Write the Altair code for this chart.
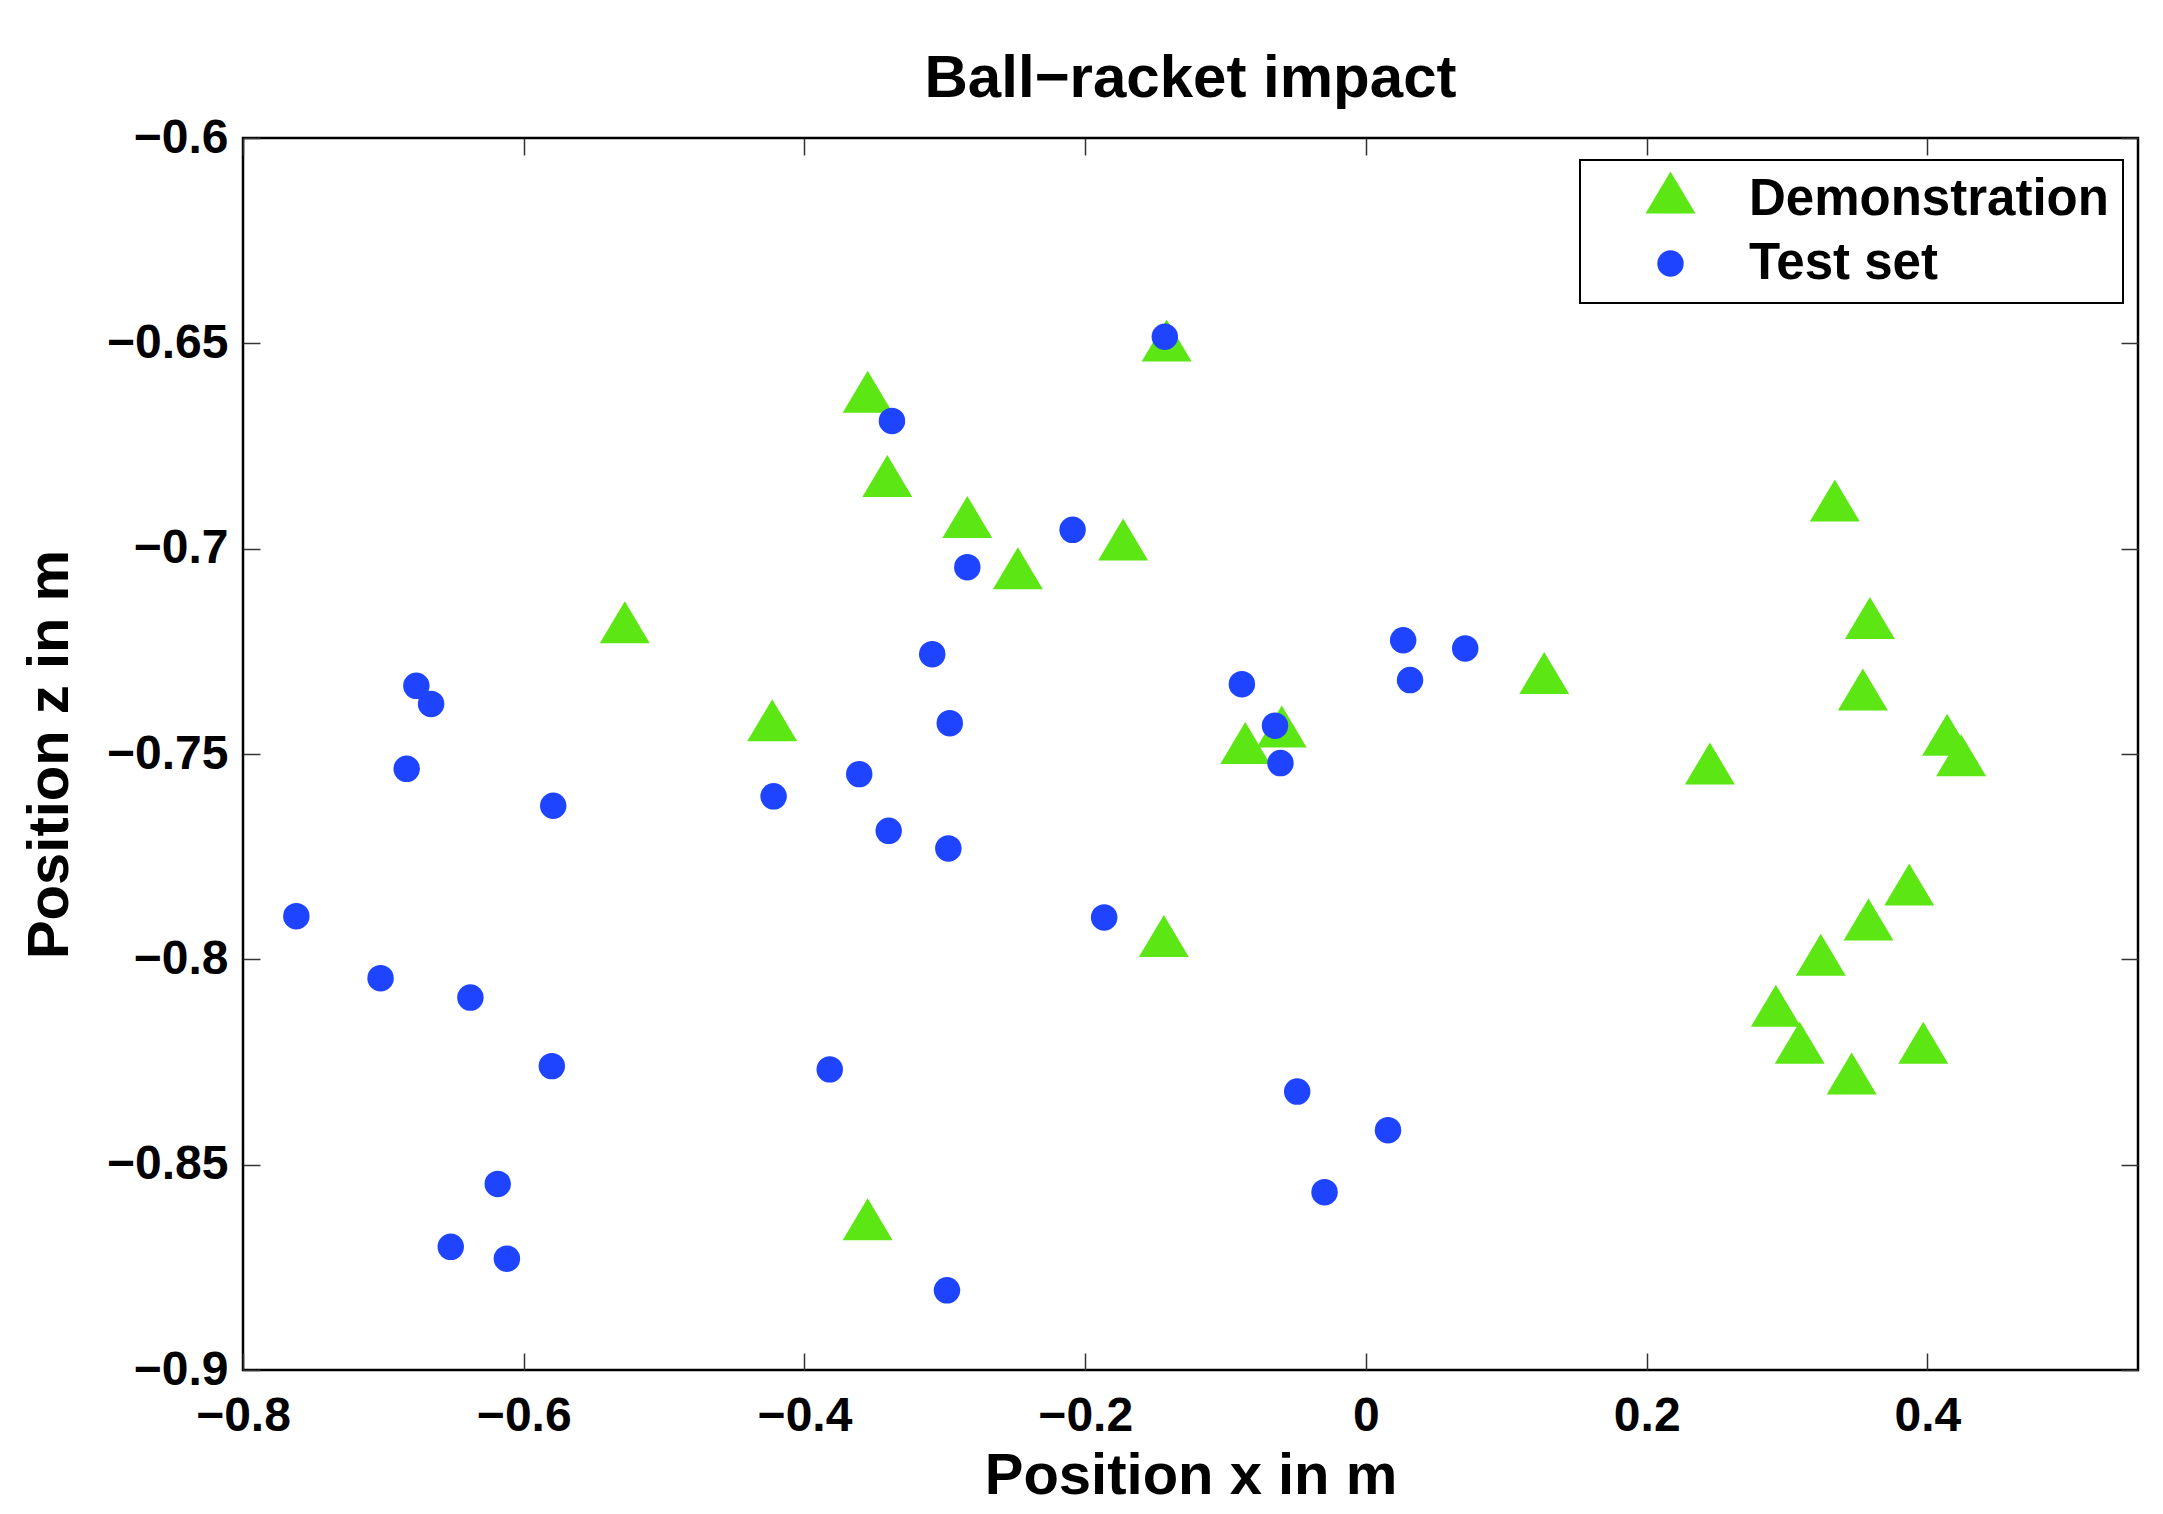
import altair as alt
import pandas as pd

# ---------------- data ----------------
chart_title = "Ball\u2212racket impact"
series_names = ["Demonstration", "Test set"]
series_colors = ["#5CE614", "#1F44FF"]

demo_x = [-0.355, -0.142, -0.341, -0.284, -0.248, -0.173, -0.528, -0.423, -0.086,
          -0.060, -0.144, -0.355, 0.127, 0.334, 0.359, 0.354, 0.245, 0.414, 0.424,
          0.358, 0.387, 0.324, 0.292, 0.309, 0.346, 0.397]
demo_z = [-0.6635, -0.651, -0.684, -0.694, -0.7065, -0.6995, -0.7196, -0.7435, -0.749,
          -0.745, -0.796, -0.865, -0.732, -0.690, -0.7186, -0.736, -0.754, -0.747, -0.752,
          -0.792, -0.7835, -0.8006, -0.813, -0.822, -0.8295, -0.822]

test_x = [-0.1433, -0.3377, -0.209, -0.284, -0.309, -0.2965, -0.361, -0.422, -0.340,
          -0.2975, -0.579, -0.6765, -0.666, -0.6834, -0.762, -0.702, -0.638, -0.580,
          -0.6185, -0.652, -0.612, -0.382, -0.2985, -0.1865, -0.0884, -0.0648, -0.0609,
          0.0265, 0.0314, 0.0707, -0.049, 0.0157, -0.0295]
test_z = [-0.6484, -0.6689, -0.6954, -0.7045, -0.7257, -0.7425, -0.7549, -0.7603, -0.7687,
          -0.773, -0.7626, -0.7334, -0.7378, -0.7536, -0.7895, -0.8046, -0.8093, -0.826,
          -0.8547, -0.870, -0.8729, -0.8268, -0.8806, -0.7898, -0.733, -0.7431, -0.7522,
          -0.7223, -0.732, -0.7243, -0.8322, -0.8416, -0.8567]

x_ticks = [-0.8, -0.6, -0.4, -0.2, 0, 0.2, 0.4]
z_ticks = [-0.9, -0.85, -0.8, -0.75, -0.7, -0.65, -0.6]

rows = [{"x": a, "z": b, "series": series_names[0]} for a, b in zip(demo_x, demo_z)]
rows += [{"x": a, "z": b, "series": series_names[1]} for a, b in zip(test_x, test_z)]
df = pd.DataFrame(rows)
title_df = pd.DataFrame({"label": [chart_title]})

# ---------------- style ----------------
FONT = "Liberation Sans"
TRI = "M-1,0.56L0,-1.12L1,0.56Z"
TICK = 17
W, H = 1895, 1232

xscale = alt.Scale(domain=[-0.8, 0.55], nice=False, zero=False)
zscale = alt.Scale(domain=[-0.9, -0.6], nice=False, zero=False)

common = dict(domain=False, grid=False, tickSize=TICK, offset=-TICK, tickColor="#333333",
              tickWidth=1.5, labelFont=FONT, labelFontSize=48, labelFontWeight="bold",
              labelColor="black", titleFont=FONT, titleFontSize=58, titleFontWeight="bold",
              titleColor="black", format=".2~f", labelOverlap=False, labelFlush=False)

legend = alt.Legend(title=None, orient="none", legendX=1337, legendY=22, padding=14,
                    strokeColor="black", fillColor="white", labelFont=FONT,
                    labelFontSize=51, labelFontWeight="bold", labelColor="black",
                    labelLimit=800, symbolOffset=51, labelOffset=53, rowPadding=12,
                    symbolStrokeWidth=0)

points = alt.Chart(df).mark_point(filled=True, opacity=1, strokeWidth=0).encode(
    x=alt.X("x:Q", scale=xscale,
            axis=alt.Axis(values=x_ticks, title="Position x in m", labelPadding=22,
                          titlePadding=7, **common)),
    y=alt.Y("z:Q", scale=zscale,
            axis=alt.Axis(values=z_ticks, title="Position z in m", labelPadding=15,
                          titlePadding=27, **common)),
    shape=alt.Shape("series:N", scale=alt.Scale(domain=series_names, range=[TRI, "circle"]),
                    legend=legend),
    color=alt.Color("series:N", scale=alt.Scale(domain=series_names, range=series_colors),
                    legend=legend),
    size=alt.Size("series:N", scale=alt.Scale(domain=series_names, range=[2500, 700]),
                  legend=legend),
)

mirror = dict(domain=False, grid=False, tickSize=TICK, offset=-TICK, tickColor="#333333",
              tickWidth=1.5, labels=False, title=None)

frame = alt.Chart(df).mark_point(opacity=0).encode(
    x=alt.X("x:Q", scale=xscale, axis=alt.Axis(orient="top", values=x_ticks, **mirror)),
    y=alt.Y("z:Q", scale=zscale, axis=alt.Axis(orient="right", values=z_ticks, **mirror)),
)

title_mark = alt.Chart(title_df).mark_text(
    font=FONT, fontSize=60, fontWeight="bold", color="black", align="center",
    baseline="alphabetic", clip=False,
).encode(text="label:N", x=alt.value(W / 2), y=alt.value(-41))

chart = alt.layer(points, frame, title_mark).resolve_axis(
    x="independent", y="independent"
).properties(
    width=W, height=H,
    autosize=alt.AutoSizeParams(type="none"),
    padding={"left": 235, "top": 130, "right": 10, "bottom": 134},
    background="white",
).configure_view(stroke="black", strokeWidth=2.5).configure_legend(strokeWidth=2)

chart.save("out.html", embed_options={"renderer": "svg", "actions": False})
